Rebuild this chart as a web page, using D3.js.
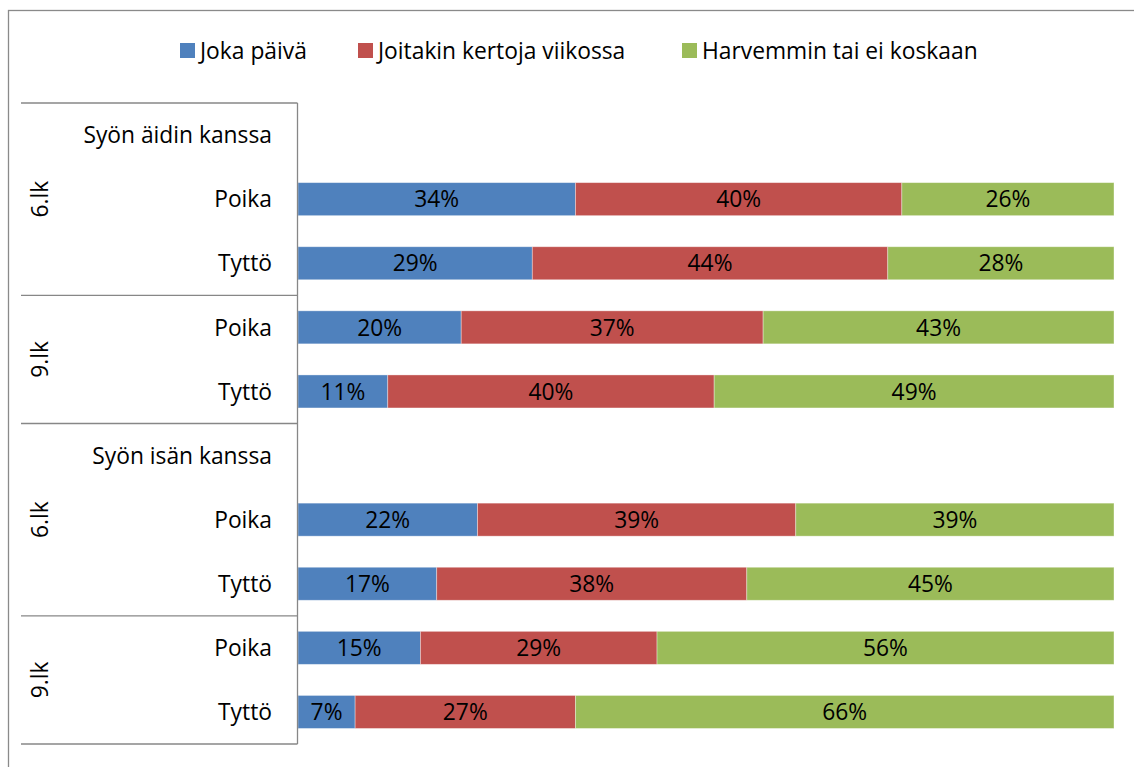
<!DOCTYPE html>
<html>
<head>
<meta charset="utf-8">
<script src="https://cdn.jsdelivr.net/npm/d3@7"></script>
<style>
  body { margin: 0; background: #fff; }
  svg text { font-family: "Open Sans", "Noto Sans", sans-serif; fill: #000; }
</style>
</head>
<body>
<svg id="chart" width="1134" height="767"></svg>
<script>
// Rows of the category axis (header rows have no bars)
const categories = ["Syön äidin kanssa", "Poika", "Tyttö", "Poika", "Tyttö",
                    "Syön isän kanssa", "Poika", "Tyttö", "Poika", "Tyttö"];
const seriesNames = ["Joka päivä", "Joitakin kertoja viikossa", "Harvemmin tai ei koskaan"];
const jokaPaiva = [null, 34, 29, 20, 11, null, 22, 17, 15, 7];
const joitakin  = [null, 40, 44, 37, 40, null, 39, 38, 29, 27];
const harvemmin = [null, 26, 28, 43, 49, null, 39, 45, 56, 66];
// Outer grouping of the category axis
const groupLabels = ["6.lk", "9.lk", "6.lk", "9.lk"];
const groupSizes = [3, 2, 3, 2];

const colors = ["#4F81BD", "#C0504D", "#9BBB59"];
const axisColor = "#878787";
const fontSize = 22.8;

const svg = d3.select("#chart");

//Outer chart border
svg.append("rect")
    .attr("x", 8.5).attr("y", 10.5)
    .attr("width", 1200).attr("height", 800)
    .attr("fill", "none")
    .attr("stroke", "#8a8a8a")
    .attr("stroke-width", 1.3);

const rowKeys = categories.map((c, i) => i);
const y = d3.scaleBand().domain(rowKeys).range([103, 744]);
const x = d3.scaleLinear().domain([0, 1]).range([298, 1114]);
const barH = y.bandwidth() * 0.515;

//Building the table for the stack
const table = categories.map((c, i) => ({
    row: i,
    [seriesNames[0]]: jokaPaiva[i] || 0,
    [seriesNames[1]]: joitakin[i] || 0,
    [seriesNames[2]]: harvemmin[i] || 0,
    hasData: jokaPaiva[i] !== null
}));
const values = [jokaPaiva, joitakin, harvemmin];

const stacked = d3.stack()
    .keys(seriesNames)
    .offset(d3.stackOffsetExpand)(table.filter(d => d.hasData));

const layers = svg.selectAll(".layer")
    .data(stacked)
    .enter()
    .append("g")
    .attr("class", "layer")
    .attr("fill", (d, i) => colors[i]);

layers.selectAll("rect")
    .data(d => d)
    .enter()
    .append("rect")
    .attr("x", d => x(d[0]))
    .attr("y", d => y(d.data.row) + (y.bandwidth() - barH) / 2)
    .attr("width", d => x(d[1]) - x(d[0]))
    .attr("height", barH)
    .attr("stroke", "rgba(255,255,255,0.45)")
    .attr("stroke-width", 0.8);

//Data labels in the middle of each segment
layers.each(function(layer, si) {
    d3.select(this).selectAll("text")
        .data(layer)
        .enter()
        .append("text")
        .attr("x", d => x((d[0] + d[1]) / 2))
        .attr("y", d => y(d.data.row) + y.bandwidth() / 2)
        .attr("dy", "0.36em")
        .attr("text-anchor", "middle")
        .attr("font-size", fontSize)
        .text(d => `${values[si][d.data.row]}%`);
});

//Category axis line and labels
svg.append("line")
    .attr("x1", 297.5).attr("x2", 297.5)
    .attr("y1", 103).attr("y2", 744)
    .attr("stroke", axisColor).attr("stroke-width", 1.3);

svg.selectAll(".cat-label")
    .data(categories)
    .enter()
    .append("text")
    .attr("class", "cat-label")
    .attr("x", 272)
    .attr("y", (d, i) => y(i) + y.bandwidth() / 2)
    .attr("dy", "0.36em")
    .attr("text-anchor", "end")
    .attr("font-size", fontSize)
    .text(d => d);

//Group separators and rotated group labels
const starts = groupSizes.map((s, i) => d3.sum(groupSizes.slice(0, i)));
const bounds = [0, ...groupSizes.map((s, i) => starts[i] + s)];
svg.selectAll(".group-sep")
    .data(bounds)
    .enter()
    .append("line")
    .attr("class", "group-sep")
    .attr("x1", 21).attr("x2", 297.5)
    .attr("y1", b => b < categories.length ? y(b) : y.range()[1])
    .attr("y2", b => b < categories.length ? y(b) : y.range()[1])
    .attr("stroke", axisColor).attr("stroke-width", 1.3);

svg.selectAll(".group-label")
    .data(groupLabels)
    .enter()
    .append("text")
    .attr("class", "group-label")
    .attr("transform", (d, i) => {
        const top = y(starts[i]);
        const bottom = y(starts[i]) + groupSizes[i] * y.step();
        return `translate(40,${(top + bottom) / 2}) rotate(-90)`;
    })
    .attr("dy", "0.36em")
    .attr("text-anchor", "middle")
    .attr("font-size", fontSize)
    .text(d => d);

//Legend
const legendX = [180, 358, 682];
const legend = svg.selectAll(".legend-item")
    .data(seriesNames)
    .enter()
    .append("g")
    .attr("class", "legend-item")
    .attr("transform", (d, i) => `translate(${legendX[i]},43)`);
legend.append("rect")
    .attr("width", 15).attr("height", 15)
    .attr("fill", (d, i) => colors[i]);
legend.append("text")
    .attr("x", 20).attr("y", 7.5)
    .attr("dy", "0.36em")
    .attr("font-size", fontSize)
    .text(d => d);
</script>
</body>
</html>
